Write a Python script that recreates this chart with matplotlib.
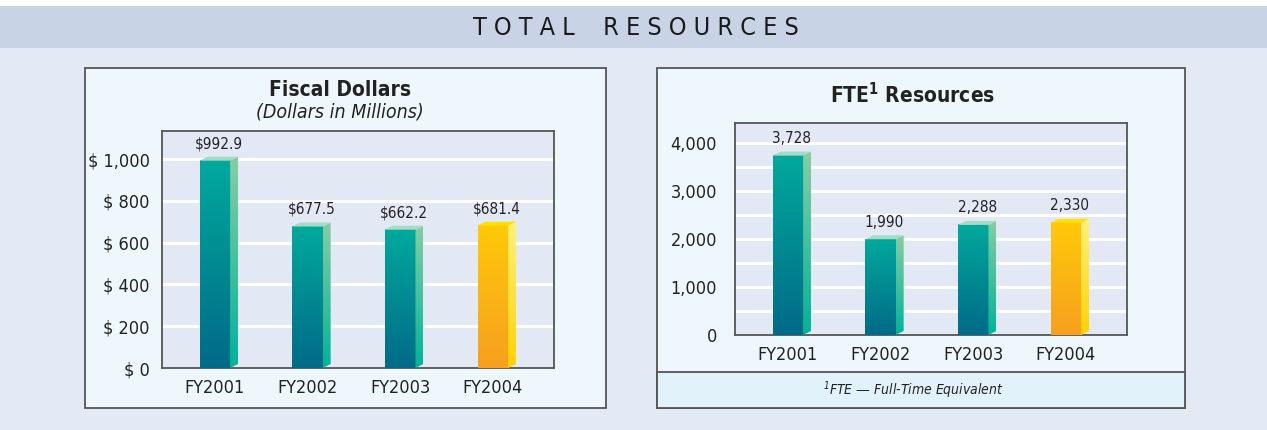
import matplotlib
matplotlib.use("Agg")
import matplotlib.pyplot as plt
import numpy as np
from matplotlib.patches import Rectangle, Polygon
from matplotlib.colors import to_rgb

# data
years = ['FY2001', 'FY2002', 'FY2003', 'FY2004']
dollars = [992.9, 677.5, 662.2, 681.4]
fte = [3728, 1990, 2288, 2330]
dollar_ticks = [0, 200, 400, 600, 800, 1000]
fte_ticks = [0, 1000, 2000, 3000, 4000]

plt.rcParams['font.family'] = ['DejaVu Sans']
plt.rcParams['font.stretch'] = 'condensed'

W, H = 1267, 430
fig = plt.figure(figsize=(W / 100, H / 100), dpi=100)
fig.patch.set_facecolor('#e4eaf5')


def frect(x0, y0, x1, y1):
    return [x0 / W, 1 - y1 / H, (x1 - x0) / W, (y1 - y0) / H]


def fig_box(x0, y0, x1, y1, fc, ec='none', lw=0):
    r = frect(x0, y0, x1, y1)
    fig.patches.append(Rectangle((r[0], r[1]), r[2], r[3], transform=fig.transFigure,
                                 facecolor=fc, edgecolor=ec, linewidth=lw, zorder=-1))


# header band
fig_box(0, 0, W, 6, 'white')
fig_box(0, 6, W, 48, '#c8d4e6')
fig.text(636 / W, 1 - 28 / H, ' '.join('TOTAL') + '    ' + ' '.join('RESOURCES'),
         ha='center', va='center', fontsize=18, color='#1a1a1a')

# panels
fig_box(85, 68, 606, 408, '#eef7fc', '#555555', 1.3)
fig_box(657, 68, 1185, 408, '#eef7fc', '#555555', 1.3)
fig_box(657, 372, 1185, 408, '#e2f2fb', '#555555', 1.3)

teal = ('#00a99c', '#006b88', '#86cda3', '#00b497', '#a6dcc6')
gold = ('#ffc908', '#f6a01f', '#fff27c', '#ffd200', '#ffe000')


def grad(c_top, c_bot, n=64):
    a, b = np.array(to_rgb(c_bot)), np.array(to_rgb(c_top))
    t = np.linspace(0, 1, n)[:, None]
    return (a + (b - a) * t).reshape(n, 1, 3)


def draw_bars(ax, vals, ymax, ax_h_px, labels):
    w, dx = 0.33, 0.085
    dy = 4 * ymax / ax_h_px
    for i, v in enumerate(vals):
        c = gold if i == len(vals) - 1 else teal
        x0, x1 = i - w / 2, i + w / 2
        ax.imshow(grad(c[0], c[1]), extent=[x0, x1, 0, v], origin='lower',
                  aspect='auto', zorder=3)
        side = Polygon([(x1, 0), (x1 + dx, dy), (x1 + dx, v + dy), (x1, v)],
                       closed=True, facecolor='none', edgecolor='none')
        ax.add_patch(side)
        im = ax.imshow(grad(c[2], c[3]), extent=[x1, x1 + dx, 0, v + dy],
                       origin='lower', aspect='auto', zorder=3)
        im.set_clip_path(side)
        ax.add_patch(Polygon([(x0, v), (x0 + dx, v + dy), (x1 + dx, v + dy), (x1, v)],
                             closed=True, facecolor=c[4], edgecolor='none', zorder=3))
        ax.annotate(labels[i], (i + dx / 2, v + dy), xytext=(0, 4), textcoords='offset points',
                    ha='center', va='bottom', fontsize=11, color='#222222')


def setup(ax, ymax, grid_step, ticks, ticklabels):
    ax.set_facecolor('#e3e8f5')
    for g in np.arange(grid_step, ymax, grid_step):
        ax.axhline(g, color='white', lw=2.2, zorder=1)
    ax.set_yticks(ticks)
    ax.set_yticklabels(ticklabels, fontsize=13, color='#222222')
    ax.set_xticks(range(len(years)))
    ax.set_xticklabels(years, fontsize=13, color='#222222')
    ax.tick_params(length=0)
    for s in ax.spines.values():
        s.set_color('#555555')
        s.set_linewidth(1.3)


# left chart: fiscal dollars
ax1 = fig.add_axes(frect(162, 131, 554, 368))
setup(ax1, 1135, 200, dollar_ticks, ['$ ' + f'{t:,}' for t in dollar_ticks])
ax1.tick_params(axis='y', pad=9)
ax1.tick_params(axis='x', pad=8)
draw_bars(ax1, dollars, 1135, 237, [f'${v:,.1f}' for v in dollars])
ax1.set_xlim(-0.57, 3.66)
ax1.set_ylim(0, 1135)
fig.text(340 / W, 1 - 90 / H, 'Fiscal Dollars', ha='center', va='center',
         fontsize=15, fontweight='bold', color='#222222')
fig.text(340 / W, 1 - 112 / H, '(Dollars in Millions)', ha='center', va='center',
         fontsize=14, style='italic', color='#222222')

# right chart: FTE resources
ax2 = fig.add_axes(frect(735, 123, 1127, 335))
setup(ax2, 4406, 500, fte_ticks, [f'{t:,}' for t in fte_ticks])
ax2.tick_params(axis='y', pad=13)
ax2.tick_params(axis='x', pad=8)
draw_bars(ax2, fte, 4406, 212, [f'{v:,}' for v in fte])
ax2.set_xlim(-0.57, 3.66)
ax2.set_ylim(0, 4406)
fig.text(913 / W, 1 - 95 / H, r'FTE$^{\mathregular{1}}$ Resources', ha='center', va='center',
         fontsize=15, fontweight='bold', color='#222222')
fig.text(913 / W, 1 - 390 / H, r'$^{\mathregular{1}}$FTE — Full-Time Equivalent', ha='center',
         va='center', fontsize=10, style='italic', color='#222222')

fig.savefig('out.png', dpi=100, facecolor=fig.get_facecolor())
